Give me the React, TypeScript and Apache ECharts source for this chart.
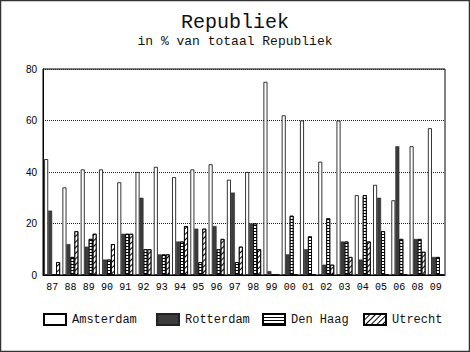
import React, { useEffect, useRef } from "react";
import * as echarts from "echarts";

const categories = ["87","88","89","90","91","92","93","94","95","96","97","98","99","00","01","02","03","04","05","06","08","09"];
const amsterdam = [45,34,41,41,36,40,42,38,41,43,37,40,75,62,60,44,60,31,35,29,50,57];
const rotterdam = [25,12,11,6,16,30,8,13,18,19,32,20,1.5,8,10,4,13,6,30,50,14,7];
const denHaag = [0,7,14,6,16,10,8,13,5,10,5,20,0,23,15,22,13,31,17,14,14,7];
const utrecht = [5,17,16,12,16,10,8,19,18,14,11,10,0,0,0,4,7,13,0,0,9,0];
const seriesNames = ["Amsterdam", "Rotterdam", "Den Haag", "Utrecht"];
const yTicks = { min: 0, max: 80, interval: 20 };

const MONO = "'Liberation Mono', 'DejaVu Sans Mono', monospace";
const SANS = "'Liberation Sans', Arial, sans-serif";

export default function App() {
  const ref = useRef<HTMLDivElement>(null);
  useEffect(() => {
    document.body.style.margin = "0";
    const chart = echarts.init(ref.current!, null, { renderer: "svg" });
    const hLines = {
      symbol: "rect",
      symbolSize: 1,
      dashArrayX: [1, 0],
      dashArrayY: [1, 2],
      color: "#000",
      rotation: 0,
    };
    const diag = {
      symbol: "rect",
      symbolSize: 1,
      dashArrayX: [1, 0],
      dashArrayY: [1, 2.5],
      color: "#000",
      rotation: -Math.PI / 4,
    };
    const base = { type: "bar", barGap: "0%", barCategoryGap: "13%" };
    const legendPos = [43, 156, 262, 363];
    chart.setOption({
      animation: false,
      backgroundColor: "#fff",
      title: {
        text: "Republiek",
        subtext: "in % van totaal Republiek",
        left: "center",
        top: 7,
        itemGap: 3,
        textStyle: { fontFamily: MONO, fontSize: 20, fontWeight: "normal", color: "#111" },
        subtextStyle: { fontFamily: MONO, fontSize: 13, color: "#111" },
      },
      legend: seriesNames.map((n, i) => ({
        data: [n],
        left: legendPos[i],
        top: 313,
        padding: 0,
        itemWidth: 22,
        itemHeight: 11,
        itemGap: 6,
        icon: "rect",
        textStyle: { fontFamily: MONO, fontSize: 12, color: "#111", padding: [0, 0, 0, 1] },
        selectedMode: false,
      })),
      grid: {
        left: 43,
        right: 25,
        top: 69,
        bottom: 77,
        show: true,
        borderColor: "#000",
        borderWidth: 1,
      },
      xAxis: {
        type: "category",
        data: categories,
        axisTick: { show: false },
        axisLine: { lineStyle: { color: "#000" } },
        axisLabel: { fontFamily: MONO, fontSize: 10, color: "#000", margin: 7 },
      },
      yAxis: {
        type: "value",
        min: yTicks.min,
        max: yTicks.max,
        interval: yTicks.interval,
        axisLine: { show: true, lineStyle: { color: "#000" } },
        axisTick: { show: false },
        axisLabel: { fontFamily: SANS, fontSize: 10, color: "#000", margin: 6 },
        splitLine: { lineStyle: { type: "dotted", color: "#222", width: 1 } },
      },
      series: [
        { ...base, name: "Amsterdam", data: amsterdam, itemStyle: { color: "#fff", borderColor: "#000", borderWidth: 0.8 } },
        { ...base, name: "Rotterdam", data: rotterdam, itemStyle: { color: "#3c3c3c", borderColor: "#222", borderWidth: 0.5 } },
        { ...base, name: "Den Haag", data: denHaag, itemStyle: { color: "#fff", borderColor: "#000", borderWidth: 0.8, decal: hLines } },
        { ...base, name: "Utrecht", data: utrecht, itemStyle: { color: "#fff", borderColor: "#000", borderWidth: 0.8, decal: diag } },
      ],
      graphic: [
        {
          type: "rect",
          shape: { x: 0.5, y: 0.5, width: 469, height: 351 },
          style: { fill: "none", stroke: "#333", lineWidth: 1.5 },
          silent: true,
        },
      ],
    });
    return () => chart.dispose();
  }, []);
  return <div ref={ref} style={{ width: 470, height: 352 }} />;
}
